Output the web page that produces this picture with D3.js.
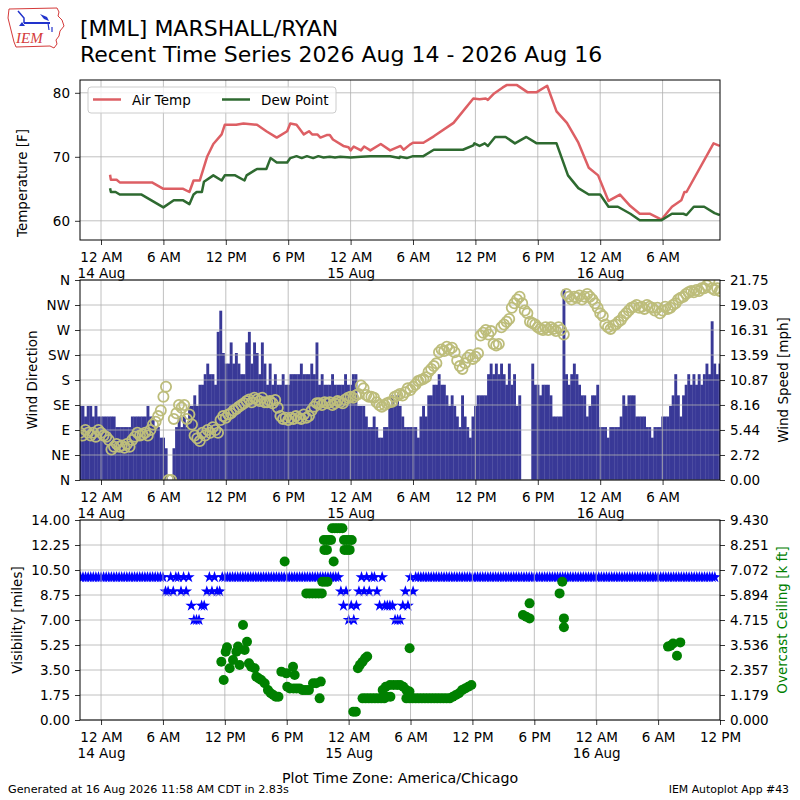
<!DOCTYPE html>
<html><head><meta charset="utf-8">
<script src="https://cdn.jsdelivr.net/npm/d3@7"></script>
<style>body{margin:0;background:#fff}svg{display:block}</style>
</head><body>
<svg id="c" width="800" height="800"></svg>
<script>
// ---------------- DATA ----------------
// times are hours after 14 Aug 2026 00:00 (America/Chicago wall clock)
const seriesStartHour = -2;      // first 15-minute sample
const stepMinutes = 15;
// wind speed [knots], one value every 15 min, one row = 1 hour (from -2 h)
const windSpeedKt = [
 7,7,6,7, 7,6,7,6, 6,6,6,6, 6,6,5,5, 5,5,5,5, 6,6,6,6,        // -2 .. 3
 6,6,7,6, 6,5,5,4, 4,3,0,0, 3,5,6,5, 6,5,7,7, 8,7,9,9,        // 4 .. 9
 10,11,10,10, 9,14,16,12, 11,11,13,11, 12,11,10,10, 13,14,11,13, 12,10,13,11, // 10 .. 15
 9,11,9,10, 9,9,10,9, 9,10,10,10, 10,11,10,10, 10,11,10,13, 9,10,9,9,       // 16 .. 21
 9,10,9,9, 9,9,10,9, 9,10,10,7, 7,7,6,5, 5,6,5,4, 4,5,5,7,    // 22 .. 27
 8,7,8,7, 6,5,5,5, 5,5,4,6, 7,6,8,8, 9,9,10,9, 9,8,7,8,       // 28 .. 33
 7,6,5,8, 6,5,4,6, 7,8,8,8, 8,10,11,10, 11,10,11,10, 9,11,9,10, // 34 .. 39
 7,8,0,0, 0,0,11,9, 9,8,9,9, 9,8,6,6, 6,6,18,10, 9,10,11,10,  // 40 .. 45
 9,8,8,6, 7,8,8,9, 5,5,5,4, 5,5,5,5, 6,8,7,8, 8,8,6,6,        // 46 .. 51
 6,6,5,5, 4,5,5,5, 6,6,6,7, 8,10,8,6, 8,9,10,9, 10,9,10,9,    // 52 .. 57
 10,11,10,15, 11,10,11                                          // 58 .. 59.5
];
// wind direction [deg], same times
const windDirDeg = [
 85,80,90,85, 80,85,78,90, 85,80,78,72, 55,60,65,60, 62,58,65,60, 72,78,85,80,
 82,85,80,90, 100,105,115,125, 150,168,0,0, 110,120,135,130, 135,110,118,100, 80,75,70,85,
 80,90,85,95, 90,85,108,115, 112,118,120,125, 128,132,135,138, 142,145,140,148, 145,142,148,140,
 140,142,138,144, 130,115,110,112, 108,112,110,115, 112,110,118,112, 115,125,132,138, 138,135,140,138,
 140,135,138,142, 140,138,145,148, 150,148,152,155, 170,165,153,150, 150,148,140,135, 132,135,138,140,
 141,150,152,155, 152,158,165,162, 168,172,178,180, 182,185,195,200, 205,210,230,235, 232,240,235,238,
 230,215,205,200, 210,220,225,218, 222,228,260,265, 270,262,268,245, 242,245,275,280, 285,290,310,318,
 325,330,318,305, 300,285,282,280, 275,272,270,275, 270,275,272,268, 275,270,262,335, 330,325,330,328,
 332,325,330,335, 330,325,318,310, 300,295,280,275, 272,278,280,285, 288,295,300,305, 310,312,315,310,
 312,308,315,312, 310,305,310,300, 305,312,308,310, 315,318,325,328, 330,335,338,340, 338,342,340,345,
 345,350,358,345, 342,345,340
];
// visibility [miles], same times
const visibilityMi = [
 10,10,10,10, 10,10,10,10, 10,10,10,10, 10,10,10,10, 10,10,10,10, 10,10,10,10,
 10,10,10,10, 10,10,10,10, 10,9,9,10, 9,10,10,9, 10,9,10,8, 7,7,7,8,
 8,9,10,9, 10,9,9,10, 10,10,10,10, 10,10,10,10, 10,10,10,10, 10,10,10,10,
 10,10,10,10, 10,10,10,10, 10,10,10,10, 10,10,10,10, 10,10,10,10, 10,10,10,10,
 10,10,10,10, 10,9,8,9, 7,8,7,8, 9,10,9,10, 9,10,10,9, 8,10,8,8,
 8,8,7,7, 7,8,9,8, 10,9,10,10, 10,10,10,10, 10,10,10,10, 10,10,10,10,
 10,10,10,10, 10,10,10,10, 10,10,10,10, 10,10,10,10, 10,10,10,10, 10,10,10,10,
 10,10,10,10, 10,10,10,10, 10,10,10,10, 10,10,10,10, 10,10,10,10, 10,10,10,10,
 10,10,10,10, 10,10,10,10, 10,10,10,10, 10,10,10,10, 10,10,10,10, 10,10,10,10,
 10,10,10,10, 10,10,10,10, 10,10,10,10, 10,10,10,10, 10,10,10,10, 10,10,10,10,
 10,10,10,10, 10,10,10
];
// [hour, degF]
const airTempObs = [[0.87,67.2],[0.95,66.4],[1.5,66.4],[1.8,66.0],[4.9,66.0],[6.0,65.0],[7.9,65.0],[8.5,64.5],[8.9,66.3],[9.5,66.3],[10.2,70.0],[10.8,72.0],[11.6,73.5],[11.9,75.0],[13.0,75.0],[13.7,75.2],[15.0,75.0],[15.9,74.0],[16.9,73.0],[17.9,74.0],[18.2,75.2],[18.8,75.0],[19.5,73.5],[20.0,74.0],[20.3,73.5],[20.8,73.5],[21.1,73.0],[21.7,73.4],[22.0,73.4],[22.3,72.7],[23.3,71.7],[23.8,71.5],[24.0,71.0],[24.3,71.6],[25.0,71.0],[25.3,71.6],[25.9,71.0],[26.9,72.0],[27.8,71.0],[28.8,71.7],[29.1,71.1],[29.7,71.9],[30.0,72.2],[31.0,72.2],[32.0,73.2],[33.9,75.3],[35.8,79.1],[36.4,79.0],[37.0,79.1],[37.2,78.9],[37.8,79.9],[38.6,80.8],[39.0,81.2],[40.0,81.2],[41.0,80.1],[41.9,80.1],[42.9,81.1],[43.8,77.1],[44.8,75.3],[45.9,72.2],[46.9,68.3],[47.8,67.1],[48.8,63.1],[49.9,64.1],[50.9,62.3],[51.8,61.1],[52.8,61.1],[53.9,60.2],[54.9,62.2],[55.8,63.2],[56.1,64.5],[56.3,64.5],[58.9,72.1],[59.5,71.7]];
const dewPointObs = [[0.87,65.1],[0.95,64.5],[1.4,64.5],[1.8,64.1],[3.9,64.1],[6.0,62.1],[7.0,63.2],[7.9,63.2],[8.5,62.6],[8.9,64.1],[9.2,64.5],[9.7,64.5],[9.9,66.1],[10.8,67.1],[11.6,66.3],[11.9,67.1],[12.9,67.1],[13.8,66.3],[14.0,67.1],[15.0,68.1],[15.9,68.1],[16.3,69.8],[16.9,69.1],[17.9,69.1],[18.2,69.8],[18.8,70.1],[19.3,69.8],[19.8,70.1],[20.4,69.8],[20.9,70.1],[21.4,69.9],[22.0,70.0],[22.5,69.9],[23.0,70.0],[24.0,69.9],[25.0,70.0],[25.9,70.1],[26.6,70.1],[27.8,70.1],[28.7,69.8],[28.75,70.0],[29.4,69.8],[30.0,70.1],[31.0,70.1],[32.0,71.1],[34.8,71.1],[35.8,71.8],[35.9,72.1],[36.4,71.7],[36.9,72.1],[37.2,71.7],[37.9,73.1],[38.9,73.1],[39.8,72.1],[40.9,73.1],[41.9,72.1],[43.8,72.1],[44.9,67.1],[45.9,65.1],[46.9,64.1],[48.0,64.1],[48.8,62.2],[49.7,62.2],[50.9,61.1],[51.8,60.1],[53.9,60.1],[54.9,61.1],[56.0,61.1],[56.3,60.9],[57.0,62.2],[58.0,62.2],[59.0,61.2],[59.5,60.9]];
// [hour, overcast ceiling k ft]
const ceilingObs = [[11.66,2.75],[11.89,1.89],[12.08,3.22],[12.21,3.43],[12.47,2.44],[12.79,2.83],[13.12,3.22],[13.28,3.46],[13.43,2.59],[13.76,4.48],[13.92,3.30],[14.15,3.69],[14.34,2.67],[14.56,2.51],[14.89,2.44],[15.05,2.04],[15.30,1.96],[15.53,1.89],[15.86,1.73],[16.18,1.41],[16.45,1.26],[16.70,1.18],[16.95,1.10],[17.20,1.10],[17.48,2.28],[17.80,7.47],[17.96,2.20],[18.05,1.57],[18.30,1.49],[18.61,2.51],[18.65,1.49],[18.77,2.12],[18.95,1.49],[19.25,1.49],[19.55,1.41],[19.85,1.41],[20.15,1.41],[19.90,5.97],[20.20,5.97],[20.50,5.97],[20.80,5.97],[21.10,5.97],[21.40,5.97],[20.55,1.73],[20.85,1.73],[21.19,1.02],[21.30,1.81],[21.45,6.52],[21.70,6.52],[21.95,6.52],[21.60,8.49],[21.85,8.49],[22.10,8.49],[22.30,8.49],[21.65,8.02],[21.90,8.02],[22.55,7.47],[22.40,9.04],[22.65,9.04],[22.90,9.04],[23.15,9.04],[23.40,9.04],[23.55,8.49],[23.80,8.49],[24.05,8.49],[24.30,8.49],[23.60,8.02],[23.85,8.02],[24.10,8.02],[24.45,0.39],[24.70,0.39],[24.90,2.44],[25.10,2.60],[25.35,2.75],[25.60,2.91],[25.80,2.99],[25.35,1.02],[25.65,1.02],[25.95,1.02],[26.25,1.02],[26.55,1.02],[26.85,1.02],[27.15,1.02],[27.45,1.02],[27.75,1.10],[28.05,1.10],[27.30,1.41],[27.60,1.57],[28.00,1.65],[28.35,1.65],[28.70,1.65],[29.00,1.65],[29.30,1.57],[29.60,1.41],[29.90,1.34],[29.91,3.38],[29.60,1.02],[29.90,1.02],[30.20,1.02],[30.50,1.02],[30.80,1.02],[31.10,1.02],[31.40,1.02],[31.70,1.02],[32.00,1.02],[32.30,1.02],[32.60,1.02],[32.90,1.02],[33.20,1.02],[33.50,1.02],[33.80,1.02],[34.10,1.10],[34.40,1.18],[34.70,1.26],[35.00,1.41],[35.30,1.49],[35.60,1.57],[35.90,1.65],[40.90,4.95],[41.22,4.87],[41.54,5.50],[41.54,4.79],[44.45,5.97],[44.71,6.52],[44.87,4.79],[44.87,4.37],[54.96,3.46],[55.20,3.50],[55.45,3.61],[55.83,3.03],[56.15,3.66]];

const tempTicks = [60, 70, 80];
const dirTickLabels = ["N","NE","E","SE","S","SW","W","NW","N"];
const speedTickLabels = ["0.00","2.72","5.44","8.16","10.87","13.59","16.31","19.03","21.75"];
const visTickLabels = ["0.00","1.75","3.50","5.25","7.00","8.75","10.50","12.25","14.00"];
const ceilTickLabels = ["0.000","1.179","2.357","3.536","4.715","5.894","7.072","8.251","9.430"];
const titleLines = ["[MML] MARSHALL/RYAN", "Recent Time Series 2026 Aug 14 - 2026 Aug 16"];
const footerLeft = "Generated at 16 Aug 2026 11:58 AM CDT in 2.83s";
const footerRight = "IEM Autoplot App #43";
const footerCenter = "Plot Time Zone: America/Chicago";

// ---------------- DRAW ----------------
const FONT = "'DejaVu Sans', sans-serif";
const KT2MPH = 1.15078;
const baseMs = Date.UTC(2026, 7, 14, 0, 0);
const t = h => new Date(baseMs + h * 3600e3);
const sampleTime = i => t(seriesStartHour + i * stepMinutes / 60);

const svg = d3.select("#c").attr("font-family", FONT);
const defs = svg.append("defs");
function clip(id, x0, y0, x1, y1) {
  defs.append("clipPath").attr("id", id).append("rect")
    .attr("x", x0).attr("y", y0).attr("width", x1 - x0).attr("height", y1 - y0);
  return `url(#${id})`;
}

const L = 80, R = 720;
const P1 = [80, 240], P2 = [280, 480], P3 = [520, 720];

const xTop = d3.scaleUtc().domain([t(-2.02), t(59.52)]).range([L, R]);
const xBot = d3.scaleUtc().domain([t(-2.04), t(60)]).range([L, R]);
const topTicks = d3.utcHour.every(6).range(t(0), t(55));
const botTicks = d3.utcHour.every(6).range(t(0), t(61));
const fmtHour = d3.utcFormat("%-I %p");
const fmtDay = d3.utcFormat("%-d %b");

const GRID = "#b0b0b0";
function grid(x, xt, yScale, yt, P) {
  const g = svg.append("g").attr("stroke", GRID).attr("stroke-width", 0.8);
  g.selectAll(null).data(xt).join("line")
    .attr("x1", d => x(d)).attr("x2", d => x(d)).attr("y1", P[0]).attr("y2", P[1]);
  g.selectAll(null).data(yt).join("line")
    .attr("x1", L).attr("x2", R).attr("y1", d => yScale(d)).attr("y2", d => yScale(d));
}
function styleAxis(g) {
  g.select(".domain").remove();
  g.attr("font-size", 13.5).attr("font-family", FONT);
  g.selectAll("line").attr("stroke", "#000").attr("stroke-width", 0.8);
  g.selectAll("text").attr("fill", "#000");
  return g;
}
function xAxis(x, ticks, y) {
  const g = svg.append("g").attr("transform", `translate(0,${y})`)
    .call(d3.axisBottom(x).tickValues(ticks).tickSize(5).tickPadding(7).tickFormat(fmtHour));
  styleAxis(g);
  g.selectAll(".tick").filter(d => d.getUTCHours() === 0)
    .append("text").attr("y", 37.5).attr("fill", "#000").text(d => fmtDay(d));
}
function spine(P) {
  svg.append("rect").attr("x", L).attr("y", P[0]).attr("width", R - L).attr("height", P[1] - P[0])
    .attr("fill", "none").attr("stroke", "#000").attr("stroke-width", 1);
}
function ylabel(text, x, y, color) {
  svg.append("text").attr("transform", `translate(${x},${y}) rotate(-90)`)
    .attr("text-anchor", "middle").attr("dy", "0.35em").attr("font-size", 13.5)
    .attr("fill", color || "#000").text(text);
}

// ---- Panel 1: temperature ----
const yT = d3.scaleLinear().domain([57, 82]).range([P1[1], P1[0]]);
grid(xTop, topTicks, yT, tempTicks, P1);
const c1 = clip("c1", L, P1[0], R, P1[1]);
const line = d3.line().x(d => xTop(t(d[0]))).y(d => yT(d[1]));
const AIR = "#dd5f64", DEW = "#2e6a30";
svg.append("path").datum(airTempObs).attr("d", line).attr("clip-path", c1)
  .attr("fill", "none").attr("stroke", AIR).attr("stroke-width", 2.5).attr("stroke-linejoin", "round");
svg.append("path").datum(dewPointObs).attr("d", line).attr("clip-path", c1)
  .attr("fill", "none").attr("stroke", DEW).attr("stroke-width", 2.5).attr("stroke-linejoin", "round");
spine(P1);
styleAxis(svg.append("g").attr("transform", `translate(${L},0)`)
  .call(d3.axisLeft(yT).tickValues(tempTicks).tickSize(5).tickPadding(5)));
xAxis(xTop, topTicks, P1[1]);
ylabel("Temperature [F]", 22, 183);
// legend
const lg = svg.append("g");
lg.append("rect").attr("x", 88).attr("y", 87).attr("width", 248).attr("height", 26).attr("rx", 3)
  .attr("fill", "#fff").attr("fill-opacity", 0.8).attr("stroke", "#cccccc");
[[AIR, "Air Temp", 93], [DEW, "Dew Point", 222]].forEach(([c, txt, x0]) => {
  lg.append("line").attr("x1", x0).attr("x2", x0 + 28).attr("y1", 99.5).attr("y2", 99.5)
    .attr("stroke", c).attr("stroke-width", 2.5);
  lg.append("text").attr("x", x0 + 39).attr("y", 104.5).attr("font-size", 13.5).text(txt);
});

// ---- Panel 2: wind ----
const yDir = d3.scaleLinear().domain([0, 360]).range([P2[1], P2[0]]);
const ySpd = d3.scaleLinear().domain([0, 21.75]).range([P2[1], P2[0]]);
const c2 = clip("c2", L, P2[0], R, P2[1]);
const bw = xTop(t(stepMinutes / 60)) - xTop(t(0));
svg.append("g").attr("clip-path", c2).attr("fill", "#393997")
  .selectAll("rect").data(windSpeedKt).join("rect")
  .attr("x", (d, i) => xTop(sampleTime(i)) - bw / 2)
  .attr("width", bw + 0.3)
  .attr("y", d => ySpd(d * KT2MPH))
  .attr("height", d => ySpd(0) - ySpd(d * KT2MPH));
grid(xTop, topTicks, yDir, d3.range(0, 361, 45), P2);
svg.append("g").attr("clip-path", c2).attr("fill", "none").attr("stroke", "#bdbd7b").attr("stroke-width", 1.8)
  .selectAll("circle").data(windDirDeg).join("circle")
  .attr("cx", (d, i) => xTop(sampleTime(i))).attr("cy", d => yDir(d)).attr("r", 5.1);
spine(P2);
styleAxis(svg.append("g").attr("transform", `translate(${L},0)`)
  .call(d3.axisLeft(yDir).tickValues(d3.range(0, 361, 45)).tickSize(5).tickPadding(5)
    .tickFormat((d, i) => dirTickLabels[i])));
styleAxis(svg.append("g").attr("transform", `translate(${R},0)`)
  .call(d3.axisRight(ySpd).tickValues(speedTickLabels.map(Number)).tickSize(5).tickPadding(5)
    .tickFormat((d, i) => speedTickLabels[i])));
xAxis(xTop, topTicks, P2[1]);
ylabel("Wind Direction", 32, 380);
ylabel("Wind Speed [mph]", 783, 380);

// ---- Panel 3: visibility / ceiling ----
const yVis = d3.scaleLinear().domain([0, 14]).range([P3[1], P3[0]]);
const yCeil = d3.scaleLinear().domain([0, 9.43]).range([P3[1], P3[0]]);
const c3 = clip("c3", L, P3[0], R, P3[1]);
const star = d3.symbol().type(d3.symbolStar).size(44);
svg.append("g").attr("clip-path", c3).attr("fill", "#0000ff")
  .selectAll("path").data(visibilityMi).join("path")
  .attr("transform", (d, i) => `translate(${xBot(sampleTime(i))},${yVis(d)})`)
  .attr("d", star);
grid(xBot, botTicks, yVis, visTickLabels.map(Number), P3);
svg.append("g").attr("clip-path", c3).attr("fill", "#008000")
  .selectAll("circle").data(ceilingObs).join("circle")
  .attr("cx", d => xBot(t(d[0]))).attr("cy", d => yCeil(d[1])).attr("r", 5);
spine(P3);
styleAxis(svg.append("g").attr("transform", `translate(${L},0)`)
  .call(d3.axisLeft(yVis).tickValues(visTickLabels.map(Number)).tickSize(5).tickPadding(5)
    .tickFormat((d, i) => visTickLabels[i])));
styleAxis(svg.append("g").attr("transform", `translate(${R},0)`)
  .call(d3.axisRight(yCeil).tickValues(ceilTickLabels.map(Number)).tickSize(5).tickPadding(5)
    .tickFormat((d, i) => ceilTickLabels[i])));
xAxis(xBot, botTicks, P3[1]);
ylabel("Visibility [miles]", 17, 620);
ylabel("Overcast Ceiling [k ft]", 782, 620, "#008000");

// ---- titles & footer ----
svg.append("text").attr("x", 80).attr("y", 36).attr("font-size", 22).text(titleLines[0]);
svg.append("text").attr("x", 80).attr("y", 62).attr("font-size", 22).text(titleLines[1]);
svg.append("text").attr("x", 400).attr("y", 783).attr("text-anchor", "middle").attr("font-size", 14.2)
  .text(footerCenter);
svg.append("text").attr("x", 8).attr("y", 793).attr("font-size", 11.2).text(footerLeft);
svg.append("text").attr("x", 789).attr("y", 793).attr("text-anchor", "end").attr("font-size", 10.9)
  .text(footerRight);

// ---- logo ----
const logo = svg.append("g");
logo.append("path")
  .attr("d", "M9,9 L57,8 L59,12 L58,16 L62,20 L64,26 L60,31 L59,36 L56,40 L57,44 L54,48 L50,46 L16,47 L14,42 L12,34 L10,26 L8,18 Z")
  .attr("fill", "none").attr("stroke", "#d43a3a").attr("stroke-width", 1);
logo.append("line").attr("x1", 24).attr("x2", 50).attr("y1", 23).attr("y2", 23).attr("stroke", "#2233cc").attr("stroke-width", 2);
logo.append("path").attr("d", "M18,11 L24,18 L24,23").attr("fill", "none").attr("stroke", "#2233cc").attr("stroke-width", 1.5);
logo.append("path").attr("d", "M40,14 L47,17 L49,21 L44,19 Z").attr("fill", "#2233cc");
logo.append("path").attr("d", "M48,23 L49,30 M52,27 L52,32").attr("stroke", "#2233cc").attr("stroke-width", 1.2);
logo.append("path").attr("d", "M19,26 L22,22 L25,26 Z").attr("fill", "#2233cc");
logo.append("text").attr("x", 16).attr("y", 43).attr("font-family", "'Liberation Serif', serif")
  .attr("font-style", "italic").attr("font-size", 15).attr("fill", "#d43a3a").text("IEM");
</script>
</body></html>
